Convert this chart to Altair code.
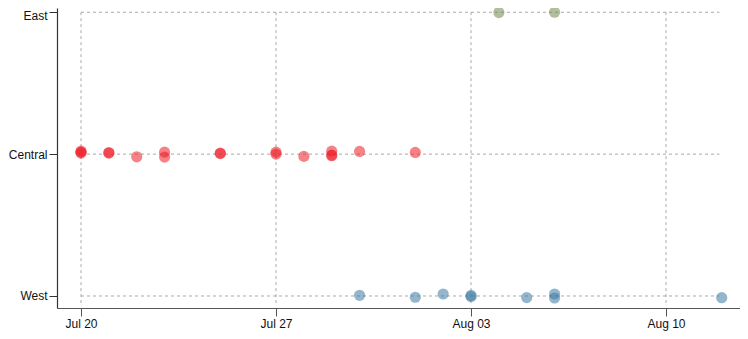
import altair as alt
import pandas as pd

# ---- data ----
regions = ["West", "Central", "East"]          # bottom -> top
region_code = {"West": 0, "Central": 1, "East": 2}

central_dates = ["2020-07-20", "2020-07-20", "2020-07-20",
                 "2020-07-21", "2020-07-21",
                 "2020-07-22",
                 "2020-07-23", "2020-07-23",
                 "2020-07-25", "2020-07-25",
                 "2020-07-27", "2020-07-27",
                 "2020-07-28",
                 "2020-07-29", "2020-07-29", "2020-07-29",
                 "2020-07-30",
                 "2020-08-01"]
central_jitter = [0.021, 0.007, 0.014,
                  0.011, 0.007,
                  -0.019,
                  0.014, -0.021,
                  0.007, 0.004,
                  0.014, 0.0,
                  -0.016,
                  0.021, -0.007, -0.011,
                  0.019,
                  0.012]

west_dates = ["2020-07-30", "2020-08-01", "2020-08-02",
              "2020-08-03", "2020-08-03",
              "2020-08-05",
              "2020-08-06", "2020-08-06",
              "2020-08-12"]
west_jitter = [0.005, -0.009, 0.014,
               0.004, -0.004,
               -0.011,
               0.014, -0.014,
               -0.012]

east_dates = ["2020-08-04", "2020-08-06"]
east_jitter = [-0.002, 0.0]

tick_dates = ["2020-07-20", "2020-07-27", "2020-08-03", "2020-08-10"]
grid_x_start = "2020-07-20"
grid_x_end = "2020-08-11T22:00:00"

colors = ["#3d7aa3", "#ec1c24", "#71894d"]   # West, Central, East

# ---- tables ----
rows = []
for d, j in zip(central_dates, central_jitter):
    rows.append({"date": d, "region": "Central", "jitter": j})
for d, j in zip(west_dates, west_jitter):
    rows.append({"date": d, "region": "West", "jitter": j})
for d, j in zip(east_dates, east_jitter):
    rows.append({"date": d, "region": "East", "jitter": j})
pts = pd.DataFrame(rows)
pts["code"] = pts["region"].map(region_code)

hgrid = pd.DataFrame({"code": [region_code[r] for r in regions],
                      "start": grid_x_start, "end": grid_x_end})
vgrid = pd.DataFrame({"date": tick_dates, "y1": -0.05, "y2": 2.0})

xscale = alt.Scale(type="utc",
                   domain=[alt.DateTime(year=2020, month=7, date=19, hours=3, minutes=19, utc=True),
                           alt.DateTime(year=2020, month=8, date=12, hours=15, minutes=45, utc=True)])
yscale = alt.Scale(domain=[-0.0846, 2.030], nice=False, zero=False)

xaxis = alt.Axis(values=[alt.DateTime(year=2020, month=int(d[5:7]), date=int(d[8:10]), utc=True) for d in tick_dates],
                 labelExpr="utcFormat(datum.value, '%b %d')",
                 grid=False, title=None, tickSize=8, tickColor="#555555",
                 domainColor="#555555", domainWidth=1.2, labelPadding=2,
                 labelFontSize=12, labelColor="#111111", labelFont="Liberation Sans")
yaxis = alt.Axis(values=[0, 1, 2],
                 labelExpr="datum.value == 2 ? 'East' : datum.value == 1 ? 'Central' : 'West'",
                 labelOffset={"condition": {"test": "datum.value == 2", "value": 3}, "value": 0},
                 grid=False, title=None, tickSize=8, tickColor="#333333",
                 domainColor="#333333", domainWidth=1.2, labelPadding=2,
                 labelFontSize=12, labelColor="#111111", labelFont="Liberation Sans")

hrules = alt.Chart(hgrid).mark_rule(color="#aaaaaa", strokeDash=[3, 3], strokeWidth=1).encode(
    x=alt.X("start:T", scale=xscale, axis=xaxis),
    x2="end:T",
    y=alt.Y("code:Q", scale=yscale, axis=yaxis),
)
vrules = alt.Chart(vgrid).mark_rule(color="#aaaaaa", strokeDash=[3, 3], strokeWidth=1).encode(
    x=alt.X("date:T", scale=xscale),
    y=alt.Y("y1:Q", scale=yscale),
    y2="y2:Q",
)
points = alt.Chart(pts).transform_calculate(
    ypos="datum.code + datum.jitter"
).mark_circle(size=125, opacity=0.55).encode(
    x=alt.X("date:T", scale=xscale),
    y=alt.Y("ypos:Q", scale=yscale),
    color=alt.Color("region:N", scale=alt.Scale(domain=regions, range=colors), legend=None),
)

chart = alt.layer(hrules, vrules, points).properties(
    width=683, height=300,
    autosize=alt.AutoSizeParams(type="none"),
    padding={"left": 49, "top": 0, "right": 0, "bottom": 23},
).configure_view(stroke=None)

chart.save("out.html", embed_options={"renderer": "svg", "actions": False})
